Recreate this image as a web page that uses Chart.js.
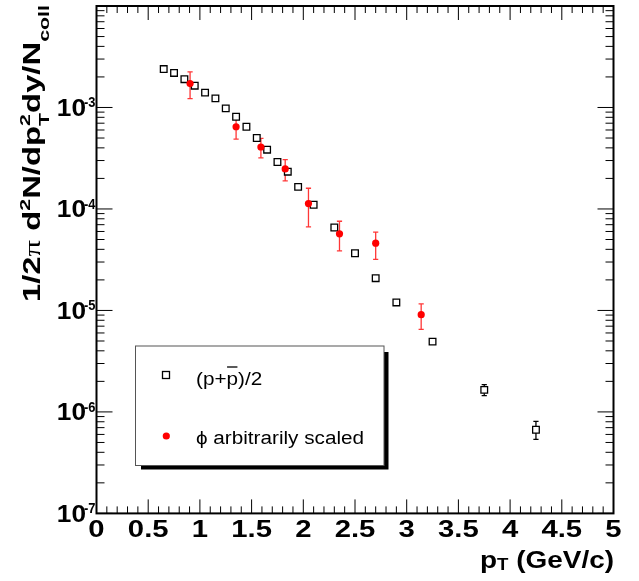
<!DOCTYPE html>
<html>
<head>
<meta charset="utf-8">
<script src="https://cdn.jsdelivr.net/npm/chart.js@4.4.1/dist/chart.umd.min.js"></script>
<style>
  body { margin: 0; background: #fff; }
</style>
</head>
<body>
<canvas id="myChart" width="639" height="581"></canvas>
<script>
// (p+pbar)/2 spectrum
const ppX = [0.65, 0.75, 0.85, 0.95, 1.05, 1.15, 1.25, 1.35, 1.45, 1.55, 1.65, 1.75, 1.85, 1.95, 2.1, 2.3, 2.5, 2.7, 2.9, 3.25, 3.75, 4.25];
const ppY = [2.39e-3, 2.19e-3, 1.90e-3, 1.64e-3, 1.40e-3, 1.23e-3, 9.8e-4, 8.1e-4, 6.46e-4, 5.0e-4, 3.84e-4, 2.90e-4, 2.33e-4, 1.65e-4, 1.10e-4, 6.56e-5, 3.66e-5, 2.08e-5, 1.20e-5, 4.93e-6, 1.65e-6, 6.67e-7];
const ppYLow = [null, null, null, null, null, null, null, null, null, null, null, null, null, null, null, null, null, null, null, null, 1.45e-6, 5.37e-7];
const ppYHigh = [null, null, null, null, null, null, null, null, null, null, null, null, null, null, null, null, null, null, null, null, 1.86e-6, 8.07e-7];

// phi, arbitrarily scaled
const phiX = [0.905, 1.35, 1.59, 1.825, 2.05, 2.35, 2.7, 3.14];
const phiY = [1.72e-3, 6.46e-4, 4.08e-4, 2.48e-4, 1.13e-4, 5.69e-5, 4.60e-5, 9.09e-6];
const phiYLow = [1.22e-3, 4.88e-4, 3.18e-4, 1.89e-4, 6.67e-5, 3.87e-5, 3.18e-5, 6.52e-6];
const phiYHigh = [2.24e-3, 7.97e-4, 4.95e-4, 3.06e-4, 1.60e-4, 7.57e-5, 5.90e-5, 1.16e-5];

const xTicks = [0, 0.5, 1, 1.5, 2, 2.5, 3, 3.5, 4, 4.5, 5];
const xTickLabels = ['0', '0.5', '1', '1.5', '2', '2.5', '3', '3.5', '4', '4.5', '5'];
const yDecades = [-7, -6, -5, -4, -3];

const legendLabels = ['(p+p)/2', '\u03D5 arbitrarily scaled'];

const B = s => `bold ${s}px "Liberation Sans", Arial, sans-serif`;
const R = s => `${s}px "Liberation Sans", Arial, sans-serif`;

function richWidth(ctx, runs) {
  let w = 0;
  runs.forEach(r => {
    ctx.font = r.f;
    if (r.adv !== false) w += ctx.measureText(r.t).width;
  });
  return w;
}

function drawRich(ctx, runs, x, y, o = {}) {
  const w = richWidth(ctx, runs);
  const sx = o.fit ? o.fit / w : (o.stretch || 1);
  ctx.save();
  ctx.translate(x, y);
  if (o.rotate) ctx.rotate(o.rotate);
  ctx.scale(sx, 1);
  ctx.fillStyle = o.color || '#000';
  ctx.textBaseline = 'alphabetic';
  ctx.textAlign = 'left';
  let cx = o.align === 'right' ? -w : o.align === 'center' ? -w / 2 : 0;
  const pos = [];
  runs.forEach(r => {
    ctx.font = r.f;
    const rw = ctx.measureText(r.t).width;
    pos.push({ x: cx, w: rw });
    ctx.fillText(r.t, cx, r.dy || 0);
    if (r.adv !== false) cx += rw;
  });
  if (o.after) o.after(ctx, pos);
  ctx.restore();
}

const errorBars = {
  id: 'errorBars',
  beforeDatasetsDraw(chart) {
    const { ctx, scales: { x, y } } = chart;
    chart.data.datasets.forEach(ds => {
      ctx.save();
      ctx.strokeStyle = ds.errColor;
      ctx.lineWidth = 1.3;
      ds.data.forEach((pt, i) => {
        if (ds.yLow[i] == null) return;
        const px = x.getPixelForValue(pt.x);
        const top = y.getPixelForValue(ds.yHigh[i]);
        const bot = y.getPixelForValue(ds.yLow[i]);
        ctx.beginPath();
        ctx.moveTo(px, top); ctx.lineTo(px, bot);
        ctx.moveTo(px - 2.6, top); ctx.lineTo(px + 2.6, top);
        ctx.moveTo(px - 2.6, bot); ctx.lineTo(px + 2.6, bot);
        ctx.stroke();
      });
      ctx.restore();
    });
  }
};

const frame = {
  id: 'frame',
  beforeDatasetsDraw(chart) {
    const { ctx, chartArea: a, scales: { x, y } } = chart;
    ctx.save();
    ctx.strokeStyle = '#000';
    ctx.lineWidth = 1;
    ctx.beginPath();
    for (let i = 0; i <= 50; i++) {
      const px = x.getPixelForValue(i / 10);
      const len = i % 5 === 0 ? 14 : 7;
      ctx.moveTo(px, a.bottom); ctx.lineTo(px, a.bottom - len);
      ctx.moveTo(px, a.top); ctx.lineTo(px, a.top + len);
    }
    for (let e = -7; e <= -3; e++) {
      for (let m = 1; m <= 9; m++) {
        const py = y.getPixelForValue(m * Math.pow(10, e));
        const len = m === 1 ? 16 : 8;
        ctx.moveTo(a.left, py); ctx.lineTo(a.left + len, py);
        ctx.moveTo(a.right, py); ctx.lineTo(a.right - len, py);
      }
    }
    ctx.stroke();
    ctx.lineWidth = 2;
    ctx.strokeRect(a.left, a.top, a.right - a.left, a.bottom - a.top);
    ctx.restore();
  },
  afterDraw(chart) {
    const { ctx, scales: { x, y } } = chart;

    // tick labels
    xTicks.forEach((v, i) => {
      drawRich(ctx, [{ t: xTickLabels[i], f: B(24) }], x.getPixelForValue(v), 537, { align: 'center', stretch: 1.22 });
    });
    yDecades.forEach(e => {
      const py = y.getPixelForValue(Math.pow(10, e));
      drawRich(ctx, [{ t: '10', f: B(23) }], 86, py + 8.3, { align: 'right', stretch: 1.14 });
      drawRich(ctx, [{ t: String(e), f: B(14) }], 84, py, { stretch: 0.92 });
    });

    // axis titles
    drawRich(ctx, [
      { t: 'p', f: B(24) },
      { t: 'T', f: B(16), dy: 2 },
      { t: ' (GeV/c)', f: B(24) }
    ], 614, 568, { align: 'right', fit: 134 });

    drawRich(ctx, [
      { t: '1/2', f: B(23) },
      { t: '\u03C0', f: '23px "Liberation Serif", serif' },
      { t: ' d', f: B(23) },
      { t: '2', f: B(15), dy: -10 },
      { t: 'N/dp', f: B(23) },
      { t: '2', f: B(15), dy: -10, adv: false },
      { t: 'T', f: B(15), dy: 9 },
      { t: 'dy/N', f: B(23) },
      { t: 'coll', f: B(15), dy: 9 }
    ], 40, 302, { rotate: -Math.PI / 2, fit: 297 });

    // legend
    ctx.save();
    ctx.fillStyle = '#000';
    ctx.fillRect(141, 352, 247.5, 117.5);
    ctx.fillStyle = '#fff';
    ctx.fillRect(135, 345.5, 249, 120);
    ctx.strokeStyle = '#555';
    ctx.lineWidth = 1;
    ctx.strokeRect(135.5, 346, 248.5, 119.5);
    ctx.strokeStyle = '#000';
    ctx.lineWidth = 1.3;
    ctx.strokeRect(162.5, 371.5, 7, 7);
    ctx.fillStyle = '#ff0000';
    ctx.beginPath();
    ctx.arc(166.3, 436, 3.6, 0, Math.PI * 2);
    ctx.fill();
    ctx.restore();

    drawRich(ctx, [
      { t: '(p+', f: R(18) },
      { t: 'p', f: R(18) },
      { t: ')/2', f: R(18) }
    ], 196, 384.5, {
      stretch: 1.15,
      after(c, pos) {
        c.strokeStyle = '#000';
        c.lineWidth = 1.3;
        c.beginPath();
        c.moveTo(pos[1].x + 0.5, 367 - 384.5);
        c.lineTo(pos[1].x + pos[1].w - 0.5, 367 - 384.5);
        c.stroke();
      }
    });
    drawRich(ctx, [{ t: legendLabels[1], f: R(18) }], 196, 443.5, { stretch: 1.15 });
  }
};

const ctx = document.getElementById('myChart');

new Chart(ctx, {
  type: 'scatter',
  data: {
    datasets: [
      {
        label: '\u03D5 arbitrarily scaled',
        data: phiX.map((v, i) => ({ x: v, y: phiY[i] })),
        yLow: phiYLow,
        yHigh: phiYHigh,
        errColor: 'rgba(255, 20, 20, 0.85)',
        pointStyle: 'circle',
        pointRadius: 3.6,
        backgroundColor: '#ff0000',
        borderColor: '#ff0000',
        borderWidth: 0
      },
      {
        label: '(p+p)/2',
        data: ppX.map((v, i) => ({ x: v, y: ppY[i] })),
        yLow: ppYLow,
        yHigh: ppYHigh,
        errColor: '#000',
        pointStyle: 'rect',
        pointRadius: 4.7,
        backgroundColor: '#fff',
        borderColor: '#000',
        borderWidth: 1.3
      }
    ]
  },
  options: {
    responsive: false,
    animation: false,
    layout: { padding: { left: 96.5, right: 25.5, top: 5, bottom: 67.6 } },
    scales: {
      x: { type: 'linear', min: 0, max: 5, display: false },
      y: { type: 'logarithmic', min: 1e-7, max: 1e-2, display: false }
    },
    plugins: {
      legend: { display: false },
      tooltip: { enabled: false }
    }
  },
  plugins: [frame, errorBars]
});
</script>
</body>
</html>
